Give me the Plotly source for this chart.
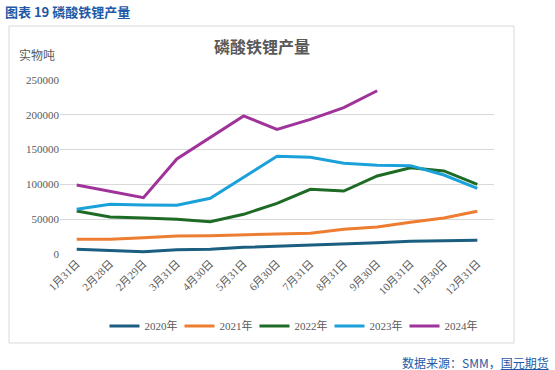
import plotly.graph_objects as go

categories = ["1月31日", "2月28日", "2月29日", "3月31日", "4月30日", "5月31日", "6月30日",
              "7月31日", "8月31日", "9月30日", "10月31日", "11月30日", "12月31日"]
y2020 = [6700, 4800, 3300, 6200, 6700, 9600, 11000, 12400, 14800, 16300, 18200, 18700, 19600]
y2021 = [21100, 21100, 23500, 25900, 26300, 27300, 28700, 29900, 35400, 38800, 45500, 51700, 61300]
y2022 = [61800, 53200, 51700, 49800, 46400, 57000, 72800, 93000, 90500, 112100, 124000, 119300, 100100]
y2023 = [64200, 71400, 70400, 70000, 80000, 110200, 140400, 138900, 130300, 127400, 126900, 113500, 94300]
y2024 = [99100, 90000, 80900, 136500, 167600, 198300, 179100, 193500, 210300, 234600, None, None, None]

series_names = ["2020年", "2021年", "2022年", "2023年", "2024年"]
series_vals = [y2020, y2021, y2022, y2023, y2024]
colors = ["#1B5E80", "#ED7D31", "#1E6B25", "#1BA1DA", "#A0339A"]

font_serif = "Liberation Serif, Times New Roman, Noto Sans CJK SC"
font_cjk = "Noto Sans CJK SC, Noto Sans"

fig = go.Figure()
for name, vals, c in zip(series_names, series_vals, colors):
    fig.add_trace(go.Scatter(x=categories, y=vals, name=name, mode="lines",
                             line=dict(color=c, width=3), connectgaps=False))

L, R, T, B = 60, 61, 80, 116
W, H = 555, 370
pw, ph = W - L - R, H - T - B

def px(x):
    return (x - L) / pw

def py(y):
    return (H - B - y) / ph

fig.update_layout(
    width=W, height=H,
    margin=dict(l=L, r=R, t=T, b=B),
    paper_bgcolor="white", plot_bgcolor="white",
    showlegend=True,
    legend=dict(orientation="h", x=px(292), y=py(326), xanchor="center", yanchor="middle",
                font=dict(family=font_serif, size=11, color="#595959"),
                itemwidth=30, entrywidth=30, entrywidthmode="pixels",
                tracegroupgap=0, bgcolor="rgba(0,0,0,0)"),
    xaxis=dict(type="category", range=[-0.5, len(categories) - 0.5], tickangle=-45,
               showgrid=False, zeroline=False, showline=False,
               tickfont=dict(family=font_serif, size=11, color="#595959"), ticks=""),
    yaxis=dict(range=[0, 250000], tickvals=[0, 50000, 100000, 150000, 200000, 250000],
               ticktext=["0", "50000", "100000", "150000", "200000", "250000"],
               showgrid=True, gridcolor="#D9D9D9", gridwidth=1, zeroline=False, showline=False,
               tickfont=dict(family=font_serif, size=11, color="#595959"), ticks=""),
    shapes=[dict(type="rect", xref="paper", yref="paper", x0=px(9), x1=px(514), y0=py(343), y1=py(26),
                 line=dict(color="#D9D9D9", width=1), fillcolor="rgba(0,0,0,0)", layer="below")],
    annotations=[
        dict(text="<b>图表 19 磷酸铁锂产量</b>", xref="paper", yref="paper", x=px(3), y=py(11),
             xanchor="left", yanchor="middle", showarrow=False,
             font=dict(family=font_cjk, size=13, color="#1F5AA6")),
        dict(text="<b>磷酸铁锂产量</b>", xref="paper", yref="paper", x=px(262), y=py(46),
             xanchor="center", yanchor="middle", showarrow=False,
             font=dict(family=font_cjk, size=16, color="#595959")),
        dict(text="实物吨", xref="paper", yref="paper", x=px(17), y=py(55),
             xanchor="left", yanchor="middle", showarrow=False,
             font=dict(family=font_cjk, size=12, color="#595959")),
        dict(text="数据来源：SMM，<u>国元期货</u>", xref="paper", yref="paper", x=px(551), y=py(362),
             xanchor="right", yanchor="middle", showarrow=False,
             font=dict(family=font_cjk, size=12, color="#1F5AA6")),
    ],
)

fig.write_html("out.html", config={"displayModeBar": False},
               post_script="document.body.style.margin='0';document.body.style.padding='0';")
